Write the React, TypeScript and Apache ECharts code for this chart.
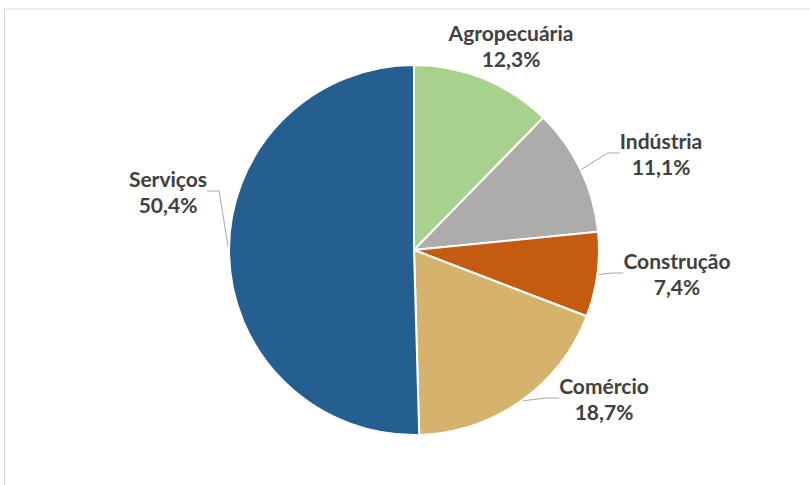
import React, { useEffect, useRef } from "react";
import * as echarts from "echarts";

const categories = ["Agropecuária", "Indústria", "Construção", "Comércio", "Serviços"];
const values = [12.3, 11.1, 7.4, 18.7, 50.4];
const colors = ["#A9D18E", "#AEABAB", "#C55A11", "#D6B36D", "#255E91"];

// label centre positions (layout only)
const labelPos: [number, number][] = [
  [511, 45],
  [661, 153],
  [677, 273],
  [604, 398],
  [168, 191],
];

export default function App() {
  const ref = useRef<HTMLDivElement>(null);
  useEffect(() => {
    document.body.style.margin = "0";
    const chart = echarts.init(ref.current!, null, { renderer: "svg" });
    chart.setOption({
      animation: false,
      backgroundColor: "#ffffff",
      graphic: [
        { type: "line", shape: { x1: 4, y1: 9, x2: 810, y2: 9 }, style: { stroke: "#D9D9D9", lineWidth: 1 } },
        { type: "line", shape: { x1: 4.5, y1: 9, x2: 4.5, y2: 485 }, style: { stroke: "#D9D9D9", lineWidth: 1 } },
      ],
      series: [
        {
          type: "pie",
          center: [414, 250],
          radius: 185,
          startAngle: 90,
          clockwise: true,
          data: categories.map((c, i) => ({
            name: c,
            value: values[i],
            itemStyle: { color: colors[i] },
            labelLine: { show: i !== 0 },
          })),
          itemStyle: { borderColor: "#ffffff", borderWidth: 2 },
          label: {
            show: true,
            position: "outside",
            formatter: (p: any) => `${p.name}\n${p.value.toFixed(1).replace(".", ",")}%`,
            fontFamily: "Lato",
            fontWeight: "bold",
            fontSize: 21,
            lineHeight: 26,
            color: "#404040",
          },
          labelLine: { show: true, length: 14, length2: 12, lineStyle: { color: "#A6A6A6", width: 1 } },
          labelLayout: (params: any) => {
            const pos = labelPos[params.dataIndex];
            return { x: pos[0], y: pos[1], align: "center", verticalAlign: "middle" };
          },
        },
      ],
    });
    return () => chart.dispose();
  }, []);
  return <div ref={ref} style={{ width: 810, height: 485 }} />;
}
